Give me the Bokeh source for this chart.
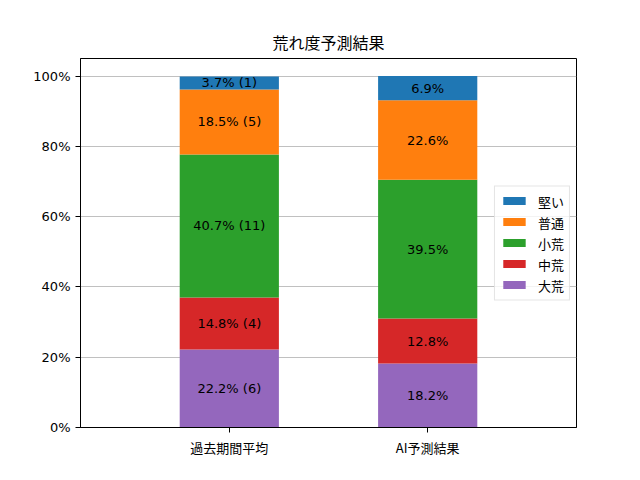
from bokeh.plotting import figure
from bokeh.models import FactorRange, Legend, LegendItem, PrintfTickFormatter, FixedTicker, ColumnDataSource
from bokeh.core.properties import value
from bokeh.embed import file_html
from bokeh.resources import INLINE

categories = ["過去期間平均", "AI予測結果"]
levels = ["大荒", "中荒", "小荒", "普通", "堅い"]  # stack order bottom -> top
colors = ["#9467bd", "#d62728", "#2ca02c", "#ff7f0e", "#1f77b4"]
past_pct = [22.2, 14.8, 40.7, 18.5, 3.7]
past_cnt = [6, 4, 11, 5, 1]
ai_pct = [18.2, 12.8, 39.5, 22.6, 6.9]
y_ticks = [0, 20, 40, 60, 80, 100]

JP = "Noto Sans CJK JP"
NUM = "DejaVu Sans"

p = figure(width=624, height=464, output_backend="svg", toolbar_location=None,
           x_range=FactorRange(factors=categories, range_padding=0.25, range_padding_units="absolute"),
           y_range=(0, 105), title="荒れ度予測結果",
           min_border_left=80, min_border_right=48, min_border_top=58, min_border_bottom=37)

data = {"cat": categories}
for lv, a, b in zip(levels, past_pct, ai_pct):
    data[lv] = [a, b]
src = ColumnDataSource(data)
rends = p.vbar_stack(levels, x="cat", width=0.5, color=colors, source=src, line_color=None)

# labels
lx, ly, lt = [], [], []
for ci, (vals, cnts) in enumerate([(past_pct, past_cnt), (ai_pct, None)]):
    base = 0.0
    for i, v in enumerate(vals):
        lx.append(categories[ci])
        ly.append(base + v / 2)
        lt.append(f"{v:.1f}% ({cnts[i]})" if cnts else f"{v:.1f}%")
        base += v
p.text(x=lx, y=ly, text=lt, text_align="center", text_baseline="middle",
       text_font=value(NUM), text_font_size="13px", text_color="black")

items = [LegendItem(label=lv, renderers=[r]) for lv, r in zip(levels, rends)][::-1]
legend = Legend(items=items, location="right", label_text_font=JP, label_text_font_size="13px",
                label_text_color="black",
                glyph_width=28, glyph_height=10, spacing=2, padding=5, margin=6,
                border_line_color="#cccccc", border_line_width=1, background_fill_alpha=0.8,
                label_standoff=10, label_height=14)
p.add_layout(legend, "center")

p.title.align = "center"
p.title.text_font = JP
p.title.text_font_style = "normal"
p.title.text_font_size = "16px"
p.title.text_color = "black"

p.outline_line_color = "black"
p.outline_line_width = 1
p.xgrid.grid_line_color = None
p.ygrid.grid_line_color = "#b0b0b0"
p.ygrid.grid_line_width = 0.8
p.yaxis.ticker = FixedTicker(ticks=y_ticks)
p.yaxis.formatter = PrintfTickFormatter(format="%d%%")
for ax in (p.xaxis, p.yaxis):
    ax.axis_line_color = "black"
    ax.major_tick_line_color = "black"
    ax.major_tick_out = 5
    ax.major_tick_in = 0
    ax.minor_tick_line_color = None
    ax.major_label_text_font_size = "13px"
    ax.major_label_text_color = "black"
p.yaxis.major_label_text_font = NUM
p.xaxis.major_label_text_font = JP

open("out.html", "w").write(file_html(p, INLINE))
